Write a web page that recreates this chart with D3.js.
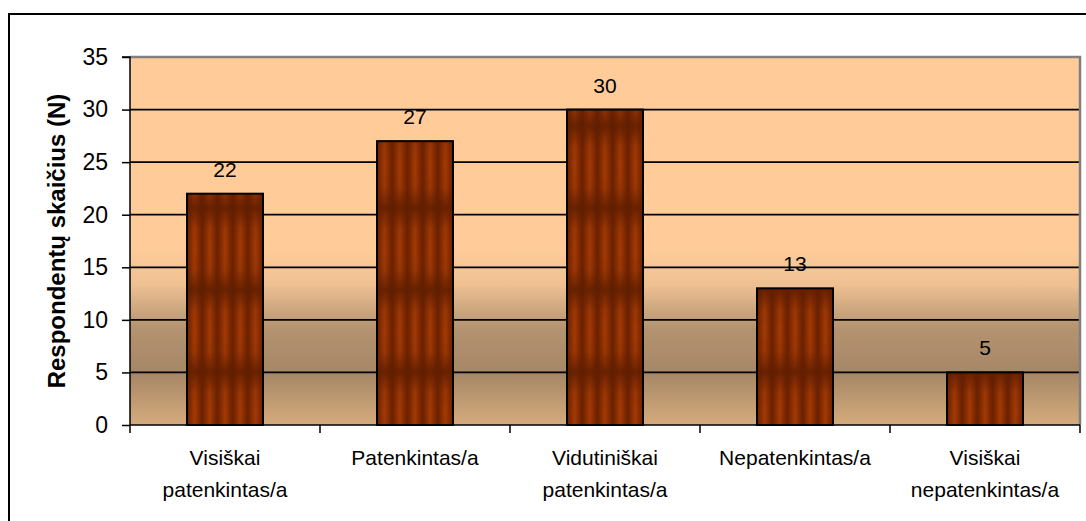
<!DOCTYPE html>
<html>
<head>
<meta charset="utf-8">
<script src="https://cdn.jsdelivr.net/npm/d3@7/dist/d3.min.js"></script>
<style>
  html, body { margin: 0; padding: 0; background: #fff; }
  svg { display: block; font-family: "Liberation Sans", Arial, sans-serif; }
</style>
</head>
<body>
<svg id="chart" width="1086" height="521"></svg>
<script>
const categories = ["Visiškai patenkintas/a", "Patenkintas/a", "Vidutiniškai patenkintas/a", "Nepatenkintas/a", "Visiškai nepatenkintas/a"];
const values = [22, 27, 30, 13, 5];
const yTicks = [0, 5, 10, 15, 20, 25, 30, 35];
const yTitle = "Respondentų skaičius (N)";

const svg = d3.select("#chart");
const plot = { left: 130, top: 57, right: 1080, bottom: 425 };

const x = d3.scaleBand().domain(categories).range([plot.left, plot.right]).paddingInner(0.6).paddingOuter(0.3);
const xOuter = d3.scaleBand().domain(categories).range([plot.left, plot.right]);
const y = d3.scaleLinear().domain([0, 35]).range([plot.bottom, plot.top]);

// outer frame
svg.append("rect").attr("x", 9).attr("y", 14).attr("width", 1100).attr("height", 530)
  .attr("fill", "#fff").attr("stroke", "#000").attr("stroke-width", 2);

const defs = svg.append("defs");
const bg = defs.append("linearGradient").attr("id", "bgGrad").attr("x1", 0).attr("y1", 0).attr("x2", 0).attr("y2", 1);
[[0, "#FFCC99"], [0.52, "#FFCC99"], [0.62, "#EEC092"], [0.74, "#B3926F"], [0.86, "#A68766"], [1, "#D5AB7D"]]
  .forEach(([o, c]) => bg.append("stop").attr("offset", o).attr("stop-color", c));

// bar texture gradients
const hg = defs.append("linearGradient").attr("id", "stripe").attr("x1", 0).attr("y1", 0).attr("x2", 1).attr("y2", 0);
[[0, "#6A2000"], [0.5, "#A43A05"], [1, "#6A2000"]]
  .forEach(([o, c]) => hg.append("stop").attr("offset", o).attr("stop-color", c));
const vg = defs.append("linearGradient").attr("id", "band").attr("x1", 0).attr("y1", 0).attr("x2", 0).attr("y2", 1);
[[0, "#5E1E00", 0.85], [0.25, "#5E1E00", 0.1], [0.5, "#5E1E00", 0], [0.75, "#5E1E00", 0.1], [1, "#5E1E00", 0.85]]
  .forEach(([o, c, a]) => vg.append("stop").attr("offset", o).attr("stop-color", c).attr("stop-opacity", a));

// plot background
svg.append("rect").attr("x", plot.left).attr("y", plot.top)
  .attr("width", plot.right - plot.left).attr("height", plot.bottom - plot.top)
  .attr("fill", "url(#bgGrad)");

// gridlines
svg.append("g").selectAll("line").data(yTicks.filter(t => t > 0 && t < 35)).join("line")
  .attr("x1", plot.left).attr("x2", plot.right)
  .attr("y1", d => y(d)).attr("y2", d => y(d))
  .attr("stroke", "#000").attr("stroke-width", 1.8);

// plot border (top & right gray)
svg.append("path")
  .attr("d", `M${plot.left},${plot.top}H${plot.right}V${plot.bottom}`)
  .attr("fill", "none").attr("stroke", "#808080").attr("stroke-width", 2.5);

// bars with per-bar pattern
values.forEach((v, i) => {
  const bx = x(categories[i]);
  const bw = x.bandwidth();
  const tileW = bw / 5;
  const tileH = 82;
  const p = defs.append("pattern").attr("id", "pat" + i).attr("patternUnits", "userSpaceOnUse")
    .attr("x", bx).attr("y", y(0) - 12 - tileH / 2).attr("width", tileW).attr("height", tileH);
  p.append("rect").attr("width", tileW).attr("height", tileH).attr("fill", "url(#stripe)");
  p.append("rect").attr("width", tileW).attr("height", tileH).attr("fill", "url(#band)");
});

svg.append("g").selectAll("rect").data(values).join("rect")
  .attr("x", (d, i) => x(categories[i]))
  .attr("y", d => y(d))
  .attr("width", x.bandwidth())
  .attr("height", d => y(0) - y(d))
  .attr("fill", (d, i) => `url(#pat${i})`)
  .attr("stroke", "#000").attr("stroke-width", 2);

// value labels
svg.append("g").selectAll("text").data(values).join("text")
  .attr("x", (d, i) => x(categories[i]) + x.bandwidth() / 2)
  .attr("y", d => y(d) - 17)
  .attr("text-anchor", "middle").attr("font-size", 21).attr("fill", "#000")
  .text(d => d);

// y axis
const yAxis = d3.axisLeft(y).tickValues(yTicks).tickSize(8).tickPadding(14);
const yg = svg.append("g").attr("transform", `translate(${plot.left},0)`).call(yAxis);
yg.select(".domain").attr("stroke", "#000").attr("stroke-width", 1.5).attr("d", `M-8,${plot.top}H0V${plot.bottom}`);
yg.selectAll(".tick line").attr("stroke", "#000").attr("stroke-width", 1.5);
yg.selectAll(".tick text").attr("font-size", 23).attr("font-family", "Liberation Sans, Arial, sans-serif").attr("fill", "#000");

// x axis
const xAxis = d3.axisBottom(xOuter).tickSize(0).tickFormat("");
const xg = svg.append("g").attr("transform", `translate(0,${plot.bottom})`).call(xAxis);
xg.select(".domain").attr("stroke", "#000").attr("stroke-width", 1.5).attr("d", `M${plot.left},0H${plot.right}`);
xg.selectAll(".tick").remove();
const bounds = categories.map(c => xOuter(c)).concat([plot.right]);
xg.selectAll("line.sep").data(bounds).join("line").attr("class", "sep")
  .attr("x1", d => d).attr("x2", d => d).attr("y1", 0).attr("y2", 8)
  .attr("stroke", "#000").attr("stroke-width", 1.5);

const xl = svg.append("g").selectAll("text").data(categories).join("text")
  .attr("x", d => xOuter(d) + xOuter.bandwidth() / 2)
  .attr("y", plot.bottom + 40)
  .attr("text-anchor", "middle").attr("font-size", 21).attr("fill", "#000");
xl.each(function(d) {
  const lines = d.split(" ");
  const t = d3.select(this);
  lines.forEach((ln, j) => {
    t.append("tspan").attr("x", xOuter(d) + xOuter.bandwidth() / 2).attr("dy", j === 0 ? 0 : 32).text(ln);
  });
});

// y title
svg.append("text")
  .attr("transform", `translate(65,${(plot.top + plot.bottom) / 2}) rotate(-90)`)
  .attr("text-anchor", "middle").attr("font-size", 24).attr("font-weight", "bold").attr("fill", "#000")
  .text(yTitle);
</script>
</body>
</html>
